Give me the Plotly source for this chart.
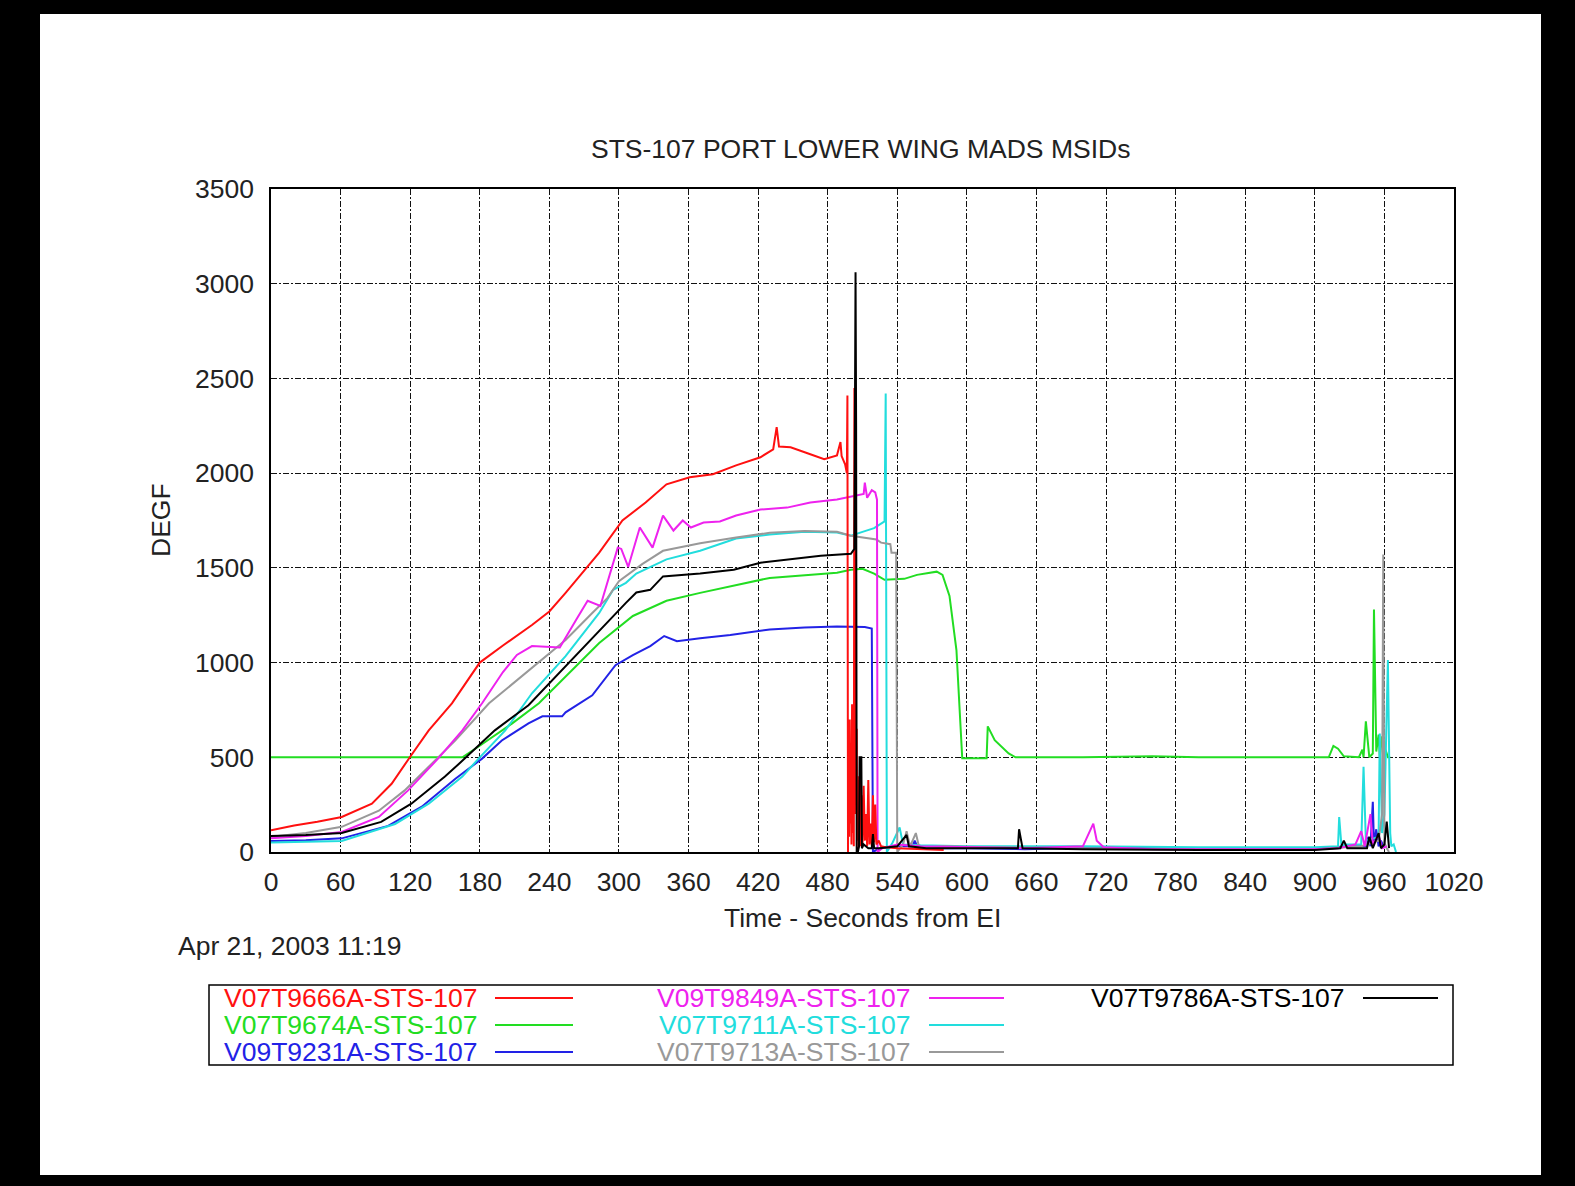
import plotly.graph_objects as go

# ---------------- data ----------------
red_t = [0, 20, 40, 61, 87, 104, 120, 136, 156, 180, 200, 225, 240, 254, 283, 303, 323, 341, 361, 381, 401, 422, 433, 436, 438, 448, 465, 477, 488, 491, 492, 495, 496.5,
         497, 497.5, 498, 498.5, 499, 499.5, 500, 500.5, 501, 501.5, 502, 502.5, 503, 503.5, 504, 504.5, 505, 505.5, 506, 506.5, 507, 507.5, 508, 508.5, 509,
         510, 511, 512, 513, 514, 515, 516, 517, 518, 519, 520, 521, 522, 524, 526, 530, 540, 560, 580, 600]
red_v = [115, 140, 160, 185, 255, 360, 503, 642, 785, 1000, 1090, 1198, 1270, 1368, 1580, 1750, 1845, 1941, 1978, 1994, 2041, 2084, 2126, 2243, 2140, 2137, 2100, 2073, 2094, 2164, 2090, 2047, 2000,
         2410, 0, 620, 80, 700, 150, 520, 40, 780, 100, 600, 30, 2450, 200, 2300, 300, 650, 60, 400, 20, 380, 50, 420, 30, 300,
         40, 350, 60, 200, 30, 380, 40, 150, 30, 300, 50, 250, 40, 60, 30, 25, 20, 15, 10]

grn_t = [0, 165, 179, 208, 231, 254, 283, 312, 341, 370, 399, 430, 488, 500, 510, 520, 529, 546, 557, 574, 579, 585, 591, 596, 617, 618, 624, 636, 642, 700, 760, 800, 860, 900,
         912, 916, 920, 925, 938, 941, 942, 944, 947, 950, 951, 953, 955, 956, 958, 960, 961, 963, 965]
grn_v = [500, 500, 557, 679, 785, 928, 1103, 1246, 1326, 1368, 1405, 1447, 1474, 1490, 1495, 1470, 1437, 1442, 1463, 1480, 1463, 1352, 1066, 495, 495, 663, 590, 520, 500, 500, 505, 500, 500, 500,
         500, 560, 545, 505, 500, 540, 500, 690, 500, 520, 1280, 530, 620, 500, 610, 500, 540, 500, 500]

blu_t = [0, 30, 61, 101, 130, 159, 182, 199, 222, 234, 251, 254, 277, 297, 312, 327, 339, 350, 370, 396, 430, 460, 488, 500, 512, 518, 519,
         525, 540, 553, 555, 558, 600, 650, 700, 720, 800, 900, 930, 945, 946, 948, 950, 951, 953, 955, 957, 960]
blu_v = [58, 62, 72, 138, 239, 387, 493, 589, 679, 716, 716, 737, 827, 986, 1039, 1087, 1140, 1113, 1129, 1145, 1175, 1185, 1190, 1190, 1188, 1180, 0,
         20, 30, 30, 60, 20, 20, 15, 20, 25, 15, 20, 30, 30, 80, 30, 265, 40, 120, 30, 60, 20]

mag_t = [0, 30, 61, 93, 118, 144, 165, 182, 200, 212, 225, 249, 263, 273, 284, 295, 299, 302, 308, 318, 329, 338, 347, 355, 362, 373, 387, 401, 422, 445, 465, 488, 505, 511, 512, 514, 518, 521, 522.5, 523,
         527, 540, 560, 600, 650, 700, 705, 709, 712, 718, 760, 800, 850, 900, 920, 935, 940, 943, 948, 950, 955, 958, 962]
mag_v = [72, 85, 106, 185, 324, 493, 642, 785, 950, 1040, 1087, 1080, 1225, 1326, 1299, 1527, 1607, 1600, 1505, 1713, 1607, 1776, 1697, 1750, 1713, 1739, 1745, 1776, 1808, 1818, 1845, 1861, 1880, 1890, 1950, 1870, 1910, 1898, 1860, 0,
         20, 40, 30, 25, 20, 30, 100, 150, 60, 25, 15, 15, 15, 15, 20, 40, 110, 30, 200, 40, 90, 20, 30]

cyn_t = [0, 30, 61, 107, 136, 165, 179, 202, 225, 254, 283, 295, 306, 315, 341, 370, 401, 430, 460, 488, 500, 510, 520, 529, 530, 531,
         536, 542, 545, 560, 600, 700, 800, 900, 920, 921, 923, 926, 940, 942, 944, 955, 956, 958, 960, 963, 965, 966, 968, 970]
cyn_v = [50, 55, 58, 148, 255, 398, 493, 642, 838, 1034, 1262, 1384, 1421, 1470, 1545, 1590, 1655, 1676, 1690, 1686, 1670, 1690, 1710, 1745, 2420, 0,
         50, 130, 40, 35, 30, 30, 25, 25, 30, 185, 30, 40, 40, 450, 60, 80, 625, 100, 200, 1013, 100, 30, 40, 0]

gry_t = [0, 30, 61, 93, 115, 136, 159, 188, 225, 254, 277, 290, 300, 320, 338, 370, 401, 430, 460, 488, 500, 510, 522, 526, 534, 535, 539, 540,
         545, 548, 551, 556, 559, 580, 620, 700, 800, 900, 940, 955, 958, 959, 960, 962, 964]
gry_v = [80, 100, 133, 218, 324, 451, 589, 785, 970, 1119, 1262, 1340, 1430, 1520, 1590, 1630, 1660, 1685, 1695, 1690, 1670, 1660, 1650, 1633, 1625, 1580, 1580, 0,
         40, 110, 30, 100, 20, 30, 25, 20, 15, 15, 30, 60, 200, 1570, 50, 20, 0]

blk_t = [0, 30, 61, 95, 121, 150, 167, 193, 222, 254, 283, 306, 315, 327, 338, 370, 399, 422, 474, 500, 503, 504, 504.5, 505, 506, 507, 507.5, 509, 509.5, 511, 515, 518, 519, 520,
         525, 540, 548, 550, 565, 600, 640, 644, 645, 648, 700, 800, 900, 922, 925, 928, 945, 947, 950, 955, 957, 960, 962, 964]
blk_v = [85, 90, 100, 159, 255, 398, 493, 642, 775, 981, 1172, 1315, 1370, 1384, 1455, 1470, 1490, 1527, 1564, 1574, 1600, 3060, 2250, 0, 0, 30, 500, 500, 20, 40, 20, 20, 95, 20,
         20, 30, 90, 30, 20, 20, 20, 20, 120, 20, 15, 10, 10, 20, 60, 20, 20, 80, 20, 100, 20, 40, 160, 20]

series = [
    ("V07T9674A-STS-107", grn_t, grn_v, "#22dd22"),
    ("V09T9231A-STS-107", blu_t, blu_v, "#2222e6"),
    ("V07T9711A-STS-107", cyn_t, cyn_v, "#22dddd"),
    ("V07T9713A-STS-107", gry_t, gry_v, "#999999"),
    ("V09T9849A-STS-107", mag_t, mag_v, "#ee22ee"),
    ("V07T9666A-STS-107", red_t, red_v, "#ff1010"),
    ("V07T9786A-STS-107", blk_t, blk_v, "#000000"),
]

legend_layout = [  # (name, column, row)
    ("V07T9666A-STS-107", 0, 0), ("V07T9674A-STS-107", 0, 1), ("V09T9231A-STS-107", 0, 2),
    ("V09T9849A-STS-107", 1, 0), ("V07T9711A-STS-107", 1, 1), ("V07T9713A-STS-107", 1, 2),
    ("V07T9786A-STS-107", 2, 0),
]

x_ticks = list(range(0, 1021, 60))
y_ticks = list(range(0, 3501, 500))

TITLE = "STS-107 PORT LOWER WING MADS MSIDs"
XTITLE = "Time - Seconds from EI"
YTITLE = "DEGF"
DATE = "Apr 21, 2003 11:19"

# ---------------- layout geometry ----------------
W, H = 1575, 1186
L, R, T, B = 271, 1454, 189, 852
PW, PH = R - L, B - T
FONT = "Liberation Sans, Arial, Helvetica, sans-serif"
FS = 26.5


def px(x):
    return (x - L) / PW


def py(y):
    return (B - y) / PH


fig = go.Figure()
colors = {}
for name, t, v, c in series:
    colors[name] = c
    fig.add_trace(go.Scatter(x=t, y=v, mode="lines", name=name,
                             line=dict(color=c, width=2), showlegend=False))

shapes = []
annotations = []

# white page on black background
shapes.append(dict(type="rect", xref="paper", yref="paper", layer="below",
                   x0=px(40), x1=px(1541), y0=py(1175), y1=py(14),
                   fillcolor="white", line=dict(width=0)))

# legend box
shapes.append(dict(type="rect", xref="paper", yref="paper",
                   x0=px(209), x1=px(1453), y0=py(1065), y1=py(985),
                   fillcolor="rgba(0,0,0,0)", line=dict(color="black", width=1.5)))

col_text_right = [479, 912, 1346]
col_line = [(495, 573), (929, 1004), (1363, 1438)]
row_y = [998, 1025, 1052]
for name, ci, ri in legend_layout:
    c = colors[name]
    annotations.append(dict(text=name, xref="paper", yref="paper",
                            x=px(col_text_right[ci]), y=py(row_y[ri]),
                            xanchor="right", yanchor="middle", showarrow=False,
                            font=dict(family=FONT, size=FS, color=c)))
    shapes.append(dict(type="line", xref="paper", yref="paper",
                       x0=px(col_line[ci][0]), x1=px(col_line[ci][1]),
                       y0=py(row_y[ri]), y1=py(row_y[ri]),
                       line=dict(color=c, width=1.8)))

annotations += [
    dict(text=TITLE, xref="paper", yref="paper", x=px(860), y=py(149),
         xanchor="center", yanchor="middle", showarrow=False,
         font=dict(family=FONT, size=FS, color="#222")),
    dict(text=XTITLE, xref="paper", yref="paper", x=px(862), y=py(918),
         xanchor="center", yanchor="middle", showarrow=False,
         font=dict(family=FONT, size=FS, color="#222")),
    dict(text=YTITLE, xref="paper", yref="paper", x=px(161), y=py(520),
         xanchor="center", yanchor="middle", showarrow=False, textangle=-90,
         font=dict(family=FONT, size=FS, color="#222")),
    dict(text=DATE, xref="paper", yref="paper", x=px(176), y=py(946),
         xanchor="left", yanchor="middle", showarrow=False,
         font=dict(family=FONT, size=FS, color="#222")),
]

grid = dict(showgrid=True, gridcolor="#111", gridwidth=1, griddash="6px,2px,2px,2px",
            showline=True, linecolor="black", linewidth=1.5, mirror=True,
            zeroline=False, ticks="", tickfont=dict(family=FONT, size=FS, color="#222"))

fig.update_xaxes(range=[0, 1020], tickvals=x_ticks, ticktext=[str(v) for v in x_ticks],
                 ticklabelstandoff=5, **grid)
fig.update_yaxes(range=[0, 3500], tickvals=y_ticks, ticktext=[str(v) for v in y_ticks],
                 ticklabelstandoff=10, **grid)

fig.update_layout(width=W, height=H, autosize=False,
                  margin=dict(l=L, r=W - R, t=T, b=H - B, pad=0),
                  paper_bgcolor="black", plot_bgcolor="white",
                  shapes=shapes, annotations=annotations, showlegend=False)

fig.write_html("out.html", config={"displayModeBar": False},
               post_script="document.body.style.margin='0';document.body.style.background='black';")
